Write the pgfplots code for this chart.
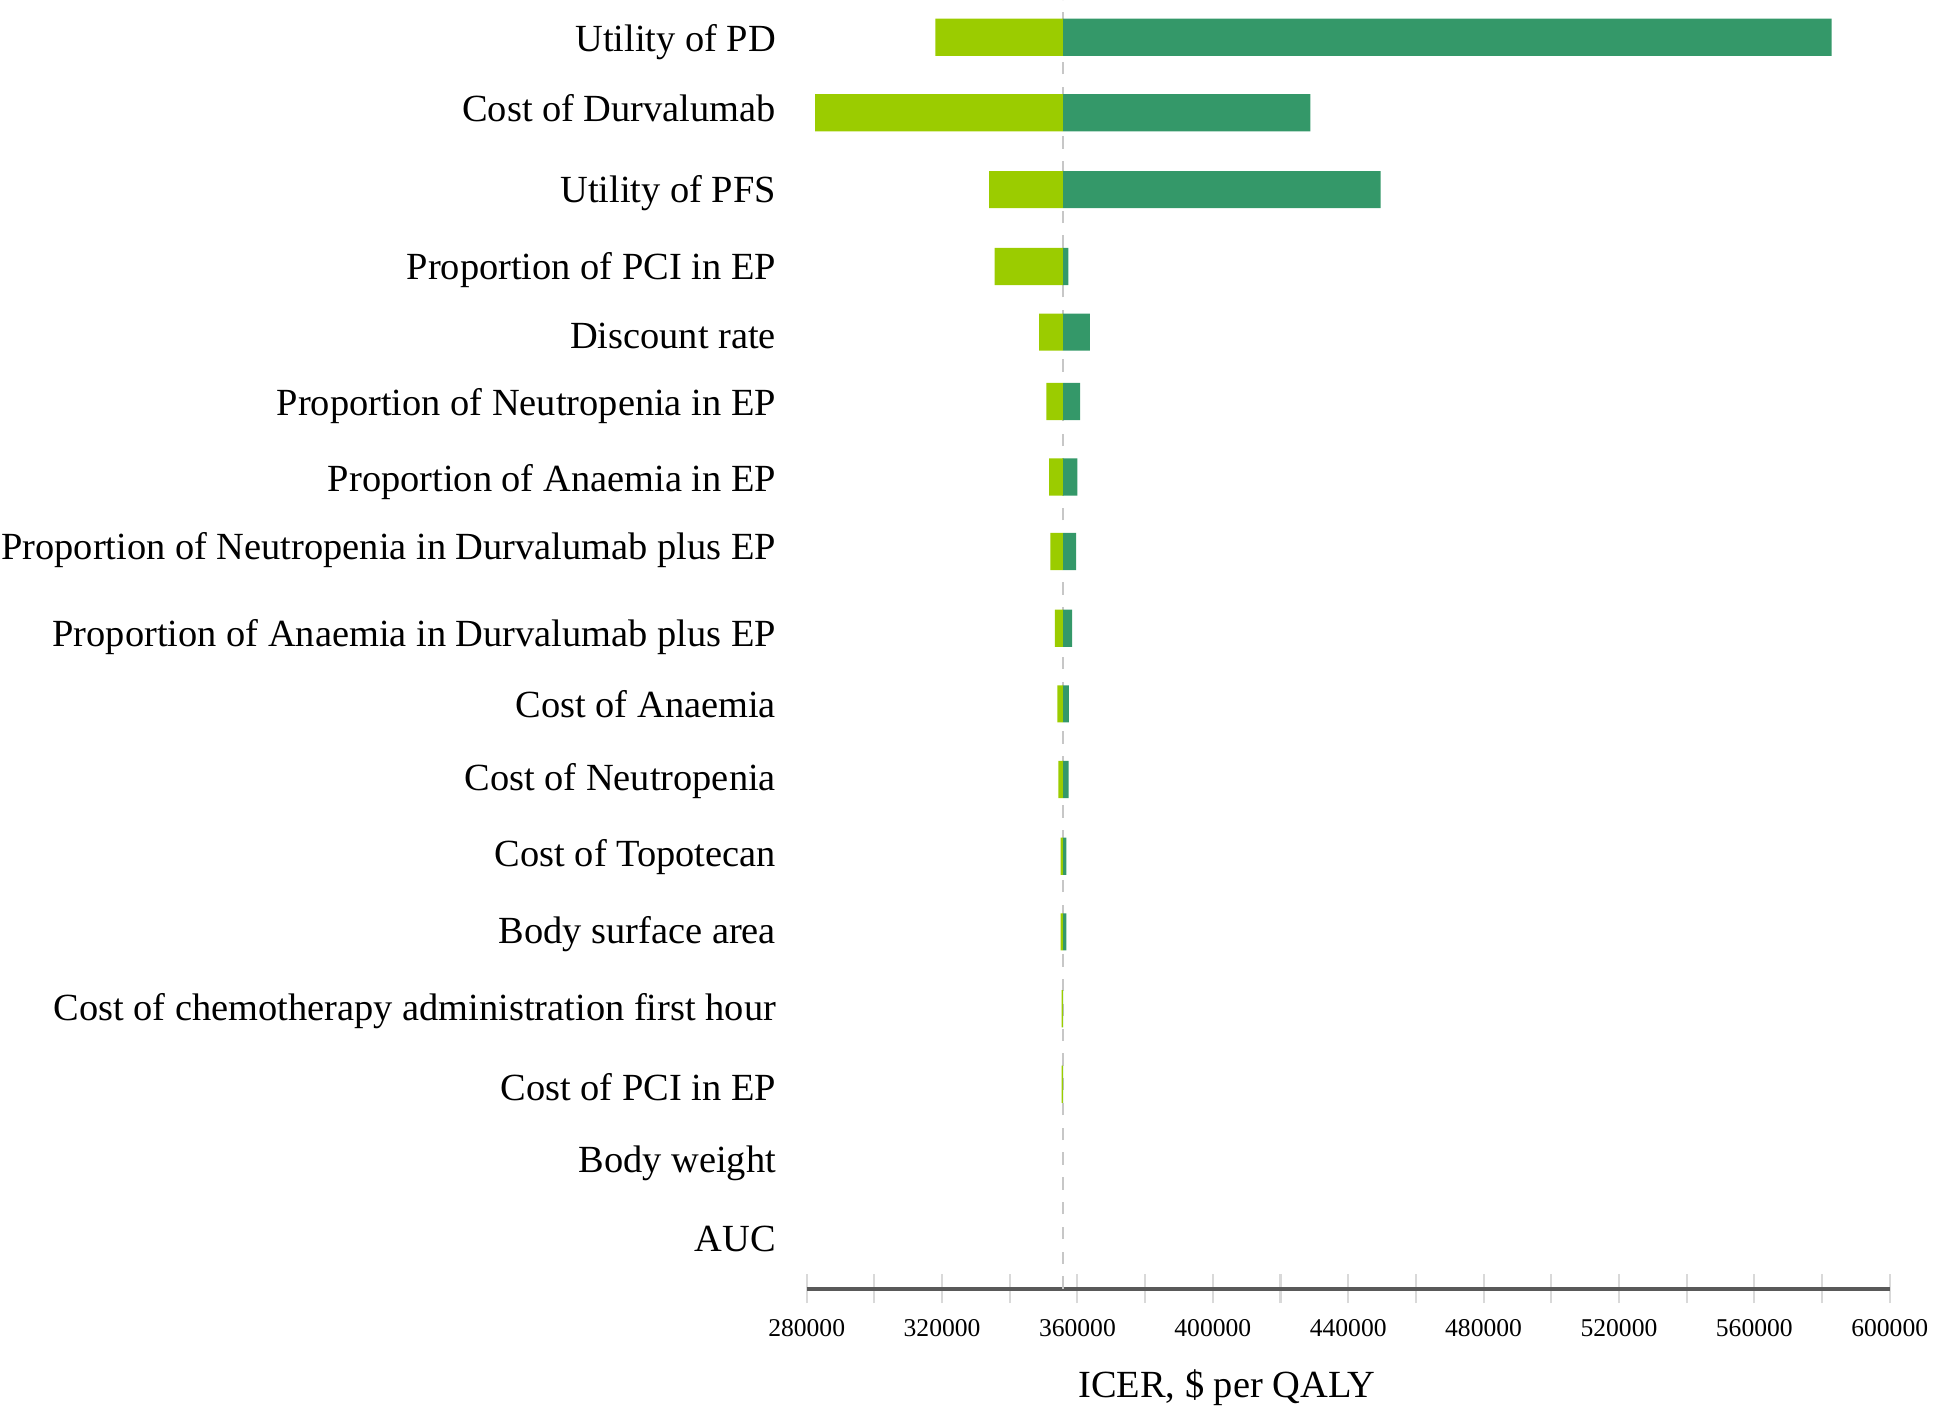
\documentclass[border=0pt]{standalone}
\usepackage{pgfplots}
\pgfplotsset{compat=1.18}
\usepackage{pgfplotstable}
\usepackage{fontspec}
\setmainfont{Liberation Serif}
\definecolor{lightg}{RGB}{155,204,0}
\definecolor{darkg}{RGB}{52,152,105}
% y = vertical position of bar, low/high = ICER at low/high parameter value
\pgfplotstableread{
y low high
1010 318000 582800
949 282500 428800
887 333900 449600
825 335500 357300
772 348700 363700
716 350800 360800
655 351600 360000
595 352000 359600
533 353300 358400
472 354100 357500
411 354400 357400
349 355000 356700
288 355000 356700
226 355300 355800
165 355300 355800
103 355700 355700
43 355700 355700
}\data
\def\base{355700}
\begin{document}
\begin{tikzpicture}
\begin{axis}[name=ax, scale only axis, width=262.2pt, height=312pt,
  xmin=280000, xmax=600000, ymin=0, ymax=1040,
  xbar stacked, bar width=9pt,
  scaled x ticks=false,
  axis x line*=bottom, axis y line*=left,
  x axis line style={-, draw=black!65, line width=0.9pt},
  y axis line style={draw=none},
  xtick={280000,320000,360000,400000,440000,480000,520000,560000,600000},
  xticklabels={280000,320000,360000,400000,440000,480000,520000,560000,600000},
  minor xtick={300000,340000,380000,420000,460000,500000,540000,580000},
  xtick align=center,
  major tick length=7pt, minor tick length=7pt,
  tick style={draw=black!15, line width=0.5pt},
  ytick style={draw=none},
  extra x ticks={355700}, extra x tick labels={},
  extra x tick style={grid=major, major grid style={draw=black!22, dashed, line width=0.5pt}, major tick length=0pt},
  xticklabel style={font=\fontsize{6.2}{7}\selectfont, anchor=center, yshift=-6pt},
  ytick={1009,956,887,825,772,715,654,599,529,475,413,351,289,227,166,104,43},
  yticklabels={Utility of PD, Cost of Durvalumab\hspace{2.4pt}, Utility of PFS, Proportion of PCI in EP, Discount rate, Proportion of Neutropenia in EP, Proportion of Anaemia in EP, Proportion of Neutropenia in Durvalumab plus EP, Proportion of Anaemia in Durvalumab plus EP, Cost of Anaemia, Cost of Neutropenia, Cost of Topotecan, Body surface area, Cost of chemotherapy administration first hour, Cost of PCI in EP, Body weight, AUC},
  yticklabel style={font=\fontsize{9.3}{11}\selectfont, anchor=east, xshift=-3.9pt, yshift=-0.9pt},
  xlabel={ICER, \$ per QALY},
  xlabel style={at={(axis description cs:0.388,0)}, anchor=center, yshift=-24pt, font=\fontsize{9.3}{11}\selectfont},
]
\addplot[draw=none, fill=none] table[x=low, y=y]{\data};
\addplot[draw=none, fill=lightg] table[x expr=\base-\thisrow{low}, y=y]{\data};
\addplot[draw=none, fill=darkg] table[x expr=\thisrow{high}-\base, y=y]{\data};
\end{axis}
\pgfresetboundingbox
\path ([shift={(-195.3pt,-29.1pt)}]ax.south west) rectangle ([shift={(12.9pt,0pt)}]ax.north east);
\end{tikzpicture}
\end{document}
